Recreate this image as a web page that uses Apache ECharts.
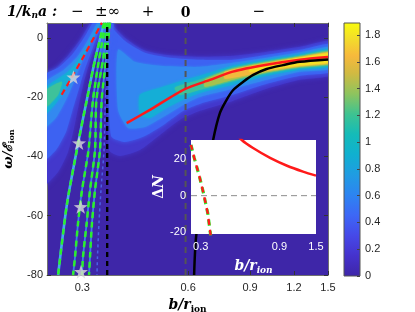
<!DOCTYPE html>
<html>
<head>
<meta charset="utf-8">
<script src="https://cdn.jsdelivr.net/npm/echarts@6.0.0/dist/echarts.min.js"></script>
<style>
html,body{margin:0;padding:0;background:#fff;}
#chart{width:415px;height:312px;}
</style>
</head>
<body>
<div id="chart"></div>
<script>
// ---------------- values ----------------
const X_TICKS = [0.3, 0.6, 0.9, 1.2, 1.5];
const Y_TICKS = [-80, -60, -40, -20, 0];
const CB_TICKS = [0, 0.2, 0.4, 0.6, 0.8, 1, 1.2, 1.4, 1.6, 1.8];
const TOP_LABELS = ['\u2212', '\u00b1\u221e', '+', '0', '\u2212'];
const TOP_LABEL_B = [0.290, 0.354, 0.461, 0.59, 0.953];
const INSET_X_TICKS = [0.3, 0.9, 1.5];
const INSET_Y_TICKS = [-20, 0, 20];

const X_RANGE = [0.238, 1.5];
const Y_RANGE = [-80, 5];
const CB_RANGE = [0, 1.89];
const INSET_X_RANGE = [0.262, 1.5];
const INSET_Y_RANGE = [-21, 30.5];

const POLE_B = 0.353;   // 1/k_n a = ±inf
const ZERO_B = 0.59;    // 1/k_n a = 0

// solid curves
const RED_B = [0.401, 0.467, 0.587, 0.692, 0.804, 1.003, 1.247, 1.5];
const RED_W = [-28.8, -24.3, -17.3, -14.2, -11.4, -9.1, -7.4, -6.5];
const BLACK_B = [0.624, 0.634, 0.707, 0.739, 0.772, 0.806, 0.861, 0.919, 1.003, 1.118, 1.247, 1.5];
const BLACK_W = [-80, -65.8, -34.4, -25.3, -20.9, -17.6, -14.8, -12.5, -10.5, -9.2, -8.1, -7.3];

// dashed branches
const RDASH_B = [0.262, 0.299, 0.341];
const RDASH_W = [-19.2, -7.4, 5.1];
const G1_B = [0.346, 0.326, 0.309, 0.292, 0.271, 0.256];
const G1_W = [5.1, -7.4, -20.9, -35.4, -56.4, -80];
const G_W = [5.1, -7.4, -20.9, -37.8, -51.3, -62.4, -73.9, -80];
const G2_B = [0.350, 0.3346, 0.3217, 0.3124, 0.2994, 0.2917, 0.2860, 0.2823];
const G3_B = [0.3549, 0.3435, 0.329, 0.326, 0.3155, 0.3087, 0.3013, 0.2994];
const G4_B = [0.3596, 0.3503, 0.3406, 0.3368, 0.3260, 0.3196, 0.3155, 0.3134];
const G5_B = [0.362, 0.356, 0.349, 0.3458, 0.339, 0.3346, 0.3313, 0.3302];

// stars
const STAR_B = [0.283, 0.2936, 0.2968, 0.2974];
const STAR_W = [-13.3, -35.5, -57.0, -78.9];

// spectral-weight regions: outline [b, omega] of each intensity level
const MAIN_L0 = [[0.3526,6.1],[0.367,4.05],[0.3967,0],[0.4463,-4.05],[0.5154,-5.74],[0.6481,-6.41],[0.8043,-6.08],[1.0047,-4.73],[1.247,-3.04],[1.568,-1.01],
  [1.568,-12.15],[1.247,-14.18],[1.0047,-17.21],[0.8043,-21.27],[0.6481,-24.64],[0.5685,-27.68],[0.4988,-32.74],[0.4376,-37.81],[0.3839,-39.83],[0.3573,-37.81]];
const MAIN_L1 = [[0.3549,5.4],[0.3691,2.7],[0.3993,-1.35],[0.4522,-5.06],[0.5325,-6.75],[0.6481,-7.43],[0.8043,-7.43],[1.0047,-5.74],[1.247,-4.05],[1.568,-2.03],
  [1.568,-11.14],[1.247,-12.83],[1.0047,-15.53],[0.8043,-19.24],[0.6481,-22.28],[0.5875,-24.30],[0.5154,-29.03],[0.4522,-33.08],[0.3967,-35.11],[0.362,-33.08]];
const MAIN_L2 = [[0.379,-4.05],[0.4235,-8.10],[0.4988,-9.45],[0.6481,-9.79],[0.8043,-8.44],[1.0047,-6.75],[1.247,-4.89],[1.568,-3.04],
  [1.568,-10.13],[1.247,-11.48],[1.0047,-14.18],[0.8043,-17.21],[0.6481,-19.92],[0.5875,-22.28],[0.5154,-26.33],[0.4522,-30.04],[0.4046,-30.38],[0.379,-24.30]];
const MAIN_L3 = [[0.4376,-19.24],[0.4988,-16.88],[0.5875,-14.18],[0.6481,-12.83],[0.8043,-9.45],[1.0047,-7.43],[1.247,-5.57],[1.568,-3.71],
  [1.568,-9.45],[1.247,-10.80],[1.0047,-12.83],[0.8043,-15.86],[0.6481,-18.57],[0.5875,-20.59],[0.5154,-23.97],[0.4672,-27.00],[0.4376,-26.0]];
const MAIN_L4 = [[0.550,-16.88],[0.6481,-14.18],[0.8043,-10.13],[1.0047,-7.93],[1.247,-6.08],[1.568,-4.22],
  [1.568,-8.78],[1.247,-10.13],[1.0047,-11.98],[0.8043,-14.68],[0.6481,-17.55],[0.5685,-19.24]];
const MAIN_L5 = [[0.6696,-14.18],[0.8043,-10.63],[1.0047,-8.27],[1.247,-6.41],[1.568,-4.56],
  [1.568,-8.44],[1.247,-9.79],[1.0047,-11.65],[0.8043,-14.18],[0.6696,-16.54]];
const MAIN_L6 = [[0.7632,-11.48],[1.0047,-8.61],[1.247,-6.6],[1.568,-4.8],
  [1.568,-8.2],[1.247,-9.5],[1.0047,-11.2],[0.7632,-13.84]];
const MAIN_L7 = [[0.899,-9.79],[1.0047,-8.78],[1.247,-6.75],[1.568,-5.06],
  [1.568,-7.93],[1.247,-9.28],[1.0047,-10.8],[0.899,-11.48]];

const LEFT_L0 = [[0.3217,6.08],[0.2955,-0.68],[0.2696,-6.75],[0.246,-11.48],[0.2334,-13.5],[0.2334,-49.62],[0.2559,-45.23],[0.2732,-38.48],
  [0.2841,-30.38],[0.2936,-22.28],[0.3033,-14.85],[0.3175,-6.75],[0.3368,0.68],[0.3526,6.08]];
const LEFT_L1 = [[0.326,6.08],[0.3033,0],[0.2804,-5.74],[0.2559,-10.13],[0.2334,-12.83],[0.2334,-41.18],[0.2525,-37.81],[0.2696,-31.73],
  [0.2804,-24.98],[0.2917,-18.23],[0.3033,-11.48],[0.3196,-4.05],[0.341,5.40]];
const LEFT_L2 = [[0.3324,5.40],[0.3114,-0.68],[0.2917,-6.08],[0.266,-10.80],[0.2334,-15.53],[0.2334,-30.38],[0.2525,-27.00],[0.2696,-20.93],
  [0.2841,-14.85],[0.2994,-8.10],[0.3155,-2.03],[0.339,5.40]];
const LEFT_L3 = [[0.3346,4.39],[0.3155,-1.35],[0.2955,-6.75],[0.2732,-11.48],[0.2334,-17.55],[0.2334,-25.99],[0.249,-22.95],[0.266,-18.23],
  [0.2804,-12.83],[0.2994,-6.75],[0.3196,-0.68],[0.3368,4.39]];
const LEFT_L4 = [[0.2334,-18.23],[0.2525,-15.53],[0.2627,-14.85],[0.2559,-19.24],[0.2428,-22.28],[0.2334,-23.63]];
const TOP_FAN = [[0.337,6.1],[0.367,6.1],[0.360,-5.7],[0.341,-5.7]];

// inset: Delta N
const IN_RED_B = [0.47, 0.532, 0.623, 0.79, 1.001, 1.251, 1.5];
const IN_RED_N = [36, 30.5, 26.1, 20.7, 16.4, 13.2, 11.0];
const IN_DASH_B = [0.262, 0.274, 0.295, 0.312, 0.331, 0.345];
const IN_DASH_N = [27.8, 20.7, 10.4, 1.3, -9.6, -22];

// ---------------- helpers ----------------
const LN = Math.log;
const xy = (bs, ws) => bs.map((b, i) => [LN(b), ws[i]]);
const fmtB = v => String(+Math.exp(v).toFixed(1));

const PARULA = [
  [0.00, '#3e26a8'], [0.08, '#4532cd'], [0.16, '#4649e8'], [0.24, '#3d67f6'],
  [0.32, '#2d84f1'], [0.40, '#209ce2'], [0.48, '#10b0d0'], [0.56, '#14bbb8'],
  [0.64, '#3ec391'], [0.72, '#8ec45e'], [0.80, '#d0ba42'], [0.87, '#f7b93c'],
  [0.94, '#f3de2a'], [1.00, '#f9fb0e']
];

function glow(name, pts, color, blur) {
  const data = pts.map(p => [LN(p[0]), p[1]]);
  return {
    name, type: 'custom', xAxisIndex: 0, yAxisIndex: 0, clip: true, silent: true, z: 2,
    data,
    renderItem: function (params, api) {
      if (params.dataIndex !== 0) return null;
      return {
        type: 'polygon',
        shape: { points: data.map(d => api.coord(d)), smooth: 0.2 },
        style: { fill: color, shadowBlur: blur, shadowColor: color }
      };
    }
  };
}

function line(name, data, color, width, type, extra) {
  return Object.assign({
    name, type: 'line', xAxisIndex: 0, yAxisIndex: 0, data,
    symbol: 'none', showSymbol: false, silent: true, clip: true, z: 3, smooth: 0.25,
    lineStyle: { color, width, type: type || 'solid' }
  }, extra || {});
}

const serif = 'DejaVu Serif';
const sans = 'Liberation Sans, Arial, Helvetica, sans-serif';
const STAR = 'path://M50,0 L61.8,35.2 L98.9,35.9 L69.1,58.3 L79.9,93.8 L50,72.5 L20.1,93.8 L30.9,58.3 L1.1,35.9 L38.2,35.2 Z';

const C0 = '#4338cc', C1 = '#3d62f2', C2 = '#3389f0', C3 = '#15aed6', C4 = '#3ec29a',
      C5 = '#a5c24f', C6 = '#f2b93d', C7 = '#f5e026';

const series = [
  glow('main0', MAIN_L0, C0, 5),
  glow('left0', LEFT_L0, C0, 5),
  glow('main1', MAIN_L1, C1, 4),
  glow('left1', LEFT_L1, C1, 4),
  glow('fan', TOP_FAN, C1, 4),
  glow('main2', MAIN_L2, C2, 3),
  glow('left2', LEFT_L2, C2, 3),
  glow('main3', MAIN_L3, C3, 3),
  glow('left3', LEFT_L3, C3, 3),
  glow('main4', MAIN_L4, C4, 2),
  glow('left4', LEFT_L4, C4, 2),
  glow('main5', MAIN_L5, C5, 2),
  glow('main6', MAIN_L6, C6, 2),
  glow('main7', MAIN_L7, C7, 2),

  line('ridge1', xy(G1_B, G1_W), '#48a6f2', 2.6),
  line('ridge2', xy(G2_B, G_W), '#4278ee', 1.8),
  line('ridge3', xy(G3_B, G_W), '#4278ee', 1.8),
  line('ridge4', xy(G4_B, G_W), '#4278ee', 1.8),
  line('ridge5', xy(G5_B, G_W), '#4a5fe6', 1.5, [3, 3]),

  line('g1', xy(G1_B, G1_W), '#2cf02c', 2.5, [6, 4], { z: 4 }),
  line('g2', xy(G2_B, G_W), '#2cf02c', 2.5, [6, 4], { z: 4 }),
  line('g3', xy(G3_B, G_W), '#2cf02c', 2.5, [6, 4], { z: 4 }),
  line('g4', xy(G4_B, G_W), '#2cf02c', 2.5, [6, 4], { z: 4 }),
  line('rdash', xy(RDASH_B, RDASH_W), '#ff1a1a', 2.2, [6, 4], { z: 4 }),

  line('pole', [[LN(POLE_B), Y_RANGE[0]], [LN(POLE_B), Y_RANGE[1]]], '#000', 2.4, [5, 4], { z: 4, smooth: false }),
  line('zero', [[LN(ZERO_B), Y_RANGE[0]], [LN(ZERO_B), Y_RANGE[1]]], '#555', 2, [6, 5], { z: 4, smooth: false }),

  line('red', xy(RED_B, RED_W), '#ff1a1a', 2.5, 'solid', { z: 5 }),
  line('black', xy(BLACK_B, BLACK_W), '#000', 2.5, 'solid', { z: 5 }),

  {
    name: 'stars', type: 'scatter', xAxisIndex: 0, yAxisIndex: 0, z: 6, silent: true,
    data: xy(STAR_B, STAR_W), symbol: STAR, symbolSize: 14,
    itemStyle: { color: '#d9d9d9' }
  },

  // inset
  {
    name: 'inZero', type: 'line', xAxisIndex: 3, yAxisIndex: 3, z: 12, silent: true, symbol: 'none',
    data: [[LN(INSET_X_RANGE[0]), 0], [LN(INSET_X_RANGE[1]), 0]],
    lineStyle: { color: '#8c8c8c', width: 1, type: [6, 4] }
  },
  {
    name: 'inRed', type: 'line', xAxisIndex: 3, yAxisIndex: 3, z: 13, silent: true, symbol: 'none', smooth: 0.3, clip: true,
    data: xy(IN_RED_B, IN_RED_N), lineStyle: { color: '#ff1a1a', width: 2.5 }
  },
  {
    name: 'inGreen', type: 'line', xAxisIndex: 3, yAxisIndex: 3, z: 13, silent: true, symbol: 'none', clip: true,
    data: xy(IN_DASH_B, IN_DASH_N), lineStyle: { color: '#2cf02c', width: 3.2, type: [6, 5] }
  },
  {
    name: 'inRedDash', type: 'line', xAxisIndex: 3, yAxisIndex: 3, z: 14, silent: true, symbol: 'none', clip: true,
    data: xy(IN_DASH_B, IN_DASH_N), lineStyle: { color: '#ff1a1a', width: 2.4, type: [6, 5], dashOffset: 1 }
  },

  // colorbar
  {
    name: 'colorbar', type: 'bar', xAxisIndex: 2, yAxisIndex: 2, z: 2, silent: true,
    data: [CB_RANGE[1]], barWidth: '100%',
    itemStyle: { color: new echarts.graphic.LinearGradient(0, 1, 0, 0, PARULA.map(s => ({ offset: s[0], color: s[1] }))) }
  }
];

const tickStyle = { color: '#333', width: 1 };
const frame = { show: true, onZero: false, lineStyle: { color: '#707070', width: 1 } };
const noLine = { show: false, onZero: false };

const option = {
  animation: false,
  backgroundColor: '#fff',
  grid: [
    { left: 47, top: 23, width: 281, height: 252, show: true, backgroundColor: '#3e26a8', borderWidth: 0, outerBoundsMode: 'none' },
    { left: 344, top: 23, width: 16, height: 253, show: true, backgroundColor: 'transparent', borderColor: '#555', borderWidth: 1, z: 5, outerBoundsMode: 'none' },
    { left: 191, top: 140, width: 125, height: 94, show: true, backgroundColor: '#fff', borderWidth: 0, z: 10, outerBoundsMode: 'none' }
  ],
  xAxis: [
    {
      gridIndex: 0, type: 'value', min: LN(X_RANGE[0]), max: LN(X_RANGE[1]), position: 'bottom',
      axisLine: frame, splitLine: { show: false },
      axisTick: { show: true, inside: true, length: 4, customValues: X_TICKS.map(LN), lineStyle: tickStyle },
      axisLabel: { customValues: X_TICKS.map(LN), formatter: fmtB, color: '#262626', fontSize: 11, fontFamily: sans, margin: 7 },
      name: '{m|b/r}{s|ion}', nameLocation: 'middle', nameGap: 19,
      nameTextStyle: { rich: {
        m: { fontFamily: serif, fontSize: 14, fontStyle: 'italic', fontWeight: 'bold', color: '#000' },
        s: { fontFamily: serif, fontSize: 9, fontWeight: 'bold', color: '#000', padding: [9, 0, 0, 0] }
      } }
    },
    {
      gridIndex: 0, type: 'value', min: LN(X_RANGE[0]), max: LN(X_RANGE[1]), position: 'top',
      axisLine: frame, splitLine: { show: false },
      axisTick: { show: true, inside: true, length: 4, customValues: X_TICKS.map(LN), lineStyle: tickStyle },
      axisLabel: {
        customValues: TOP_LABEL_B.map(LN), margin: 3,
        formatter: function (v) {
          let best = 0;
          TOP_LABEL_B.forEach((b, i) => { if (Math.abs(LN(b) - v) < Math.abs(LN(TOP_LABEL_B[best]) - v)) best = i; });
          return TOP_LABELS[best] === '0' ? '{z|0}' : '{t|' + TOP_LABELS[best] + '}';
        },
        rich: {
          t: { fontFamily: serif, fontSize: 15, color: '#000' },
          z: { fontFamily: serif, fontSize: 14, fontWeight: 'bold', color: '#000' }
        }
      }
    },
    { gridIndex: 1, type: 'category', data: ['c'], show: false },
    {
      gridIndex: 2, type: 'value', min: LN(INSET_X_RANGE[0]), max: LN(INSET_X_RANGE[1]), z: 11,
      axisLine: noLine, axisTick: { show: false }, splitLine: { show: false },
      axisLabel: { customValues: INSET_X_TICKS.map(LN), formatter: fmtB, color: '#fff', fontSize: 11, fontFamily: sans, margin: 7 },
      name: '{m|b/r}{s|ion}', nameLocation: 'middle', nameGap: 23,
      nameTextStyle: { rich: {
        m: { fontFamily: serif, fontSize: 14, fontStyle: 'italic', fontWeight: 'bold', color: '#fff' },
        s: { fontFamily: serif, fontSize: 9, fontStyle: 'italic', fontWeight: 'bold', color: '#fff', padding: [9, 0, 0, 0] }
      } }
    }
  ],
  yAxis: [
    {
      gridIndex: 0, type: 'value', min: Y_RANGE[0], max: Y_RANGE[1], position: 'left',
      axisLine: frame, splitLine: { show: false },
      axisTick: { show: true, inside: true, length: 4, customValues: Y_TICKS, lineStyle: tickStyle },
      axisLabel: { customValues: Y_TICKS, color: '#262626', fontSize: 11, fontFamily: sans, margin: 4 },
      name: '{m|\u03c9/\u2130}{s|ion}', nameLocation: 'middle', nameGap: 26, nameRotate: 90,
      nameTextStyle: { rich: {
        m: { fontFamily: serif, fontSize: 13, fontStyle: 'italic', fontWeight: 'bold', color: '#000' },
        s: { fontFamily: serif, fontSize: 8, fontWeight: 'bold', color: '#000', padding: [8, 0, 0, 0] }
      } }
    },
    {
      gridIndex: 0, type: 'value', min: Y_RANGE[0], max: Y_RANGE[1], position: 'right',
      axisLine: frame, splitLine: { show: false },
      axisTick: { show: true, inside: true, length: 4, customValues: Y_TICKS, lineStyle: tickStyle },
      axisLabel: { show: false }
    },
    {
      gridIndex: 1, type: 'value', min: CB_RANGE[0], max: CB_RANGE[1], position: 'right', z: 6,
      axisLine: noLine, splitLine: { show: false },
      axisTick: { show: true, inside: true, length: 3, customValues: CB_TICKS, lineStyle: { color: '#444', width: 1 } },
      axisLabel: { customValues: CB_TICKS, formatter: v => String(+v.toFixed(1)), color: '#262626', fontSize: 11, fontFamily: sans, margin: 5 }
    },
    {
      gridIndex: 2, type: 'value', min: INSET_Y_RANGE[0], max: INSET_Y_RANGE[1], z: 11,
      axisLine: noLine, axisTick: { show: false }, splitLine: { show: false },
      axisLabel: { customValues: INSET_Y_TICKS, color: '#fff', fontSize: 11, fontFamily: sans, margin: 5 },
      name: '{d|\u0394}{n|N}', nameLocation: 'middle', nameGap: 22, nameRotate: 90,
      nameTextStyle: { rich: {
        d: { fontFamily: serif, fontSize: 14, fontWeight: 'bold', color: '#fff' },
        n: { fontFamily: serif, fontSize: 14, fontStyle: 'italic', fontWeight: 'bold', color: '#fff' }
      } }
    }
  ],
  graphic: [{
    type: 'text', left: 7, top: 5, z: 20, silent: true,
    style: {
      text: '{m|1/k}{s|n}{m|a :}',
      rich: {
        m: { fontFamily: serif, fontSize: 14, fontStyle: 'italic', fontWeight: 'bold', fill: '#000', color: '#000' },
        s: { fontFamily: serif, fontSize: 9, fontStyle: 'italic', fontWeight: 'bold', fill: '#000', color: '#000', padding: [8, 0, 0, 0] }
      }
    }
  }],
  series
};

const chart = echarts.init(document.getElementById('chart'), null, { renderer: 'canvas', width: 415, height: 312 });
chart.setOption(option);
</script>
</body>
</html>
